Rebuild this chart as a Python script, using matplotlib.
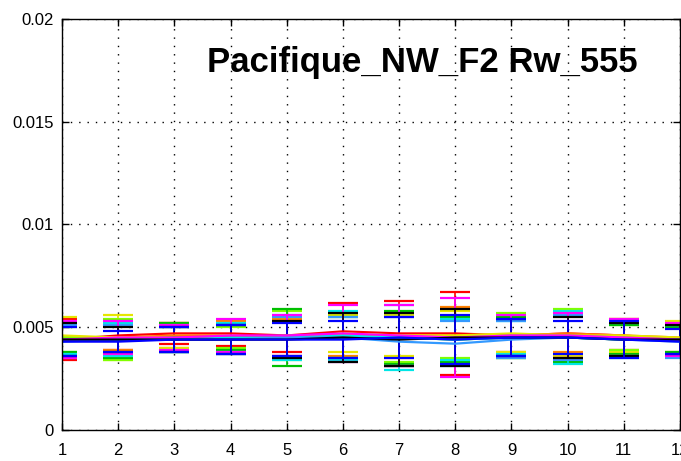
import matplotlib
matplotlib.use("Agg")
import matplotlib.pyplot as plt
import numpy as np

x = list(range(1, 13))
title_text = "Pacifique_NW_F2 Rw_555"
yticks = [0, 0.005, 0.01, 0.015, 0.02]
ytick_labels = ["0", "0.005", "0.01", "0.015", "0.02"]

colors = ["#ff0000", "#ff8000", "#e6e600", "#80ff00", "#00c000", "#00e6e6",
          "#3399ff", "#ff00ff", "#000000", "#0000ff"]

mean_red     = [0.0044, 0.0046, 0.0047, 0.0047, 0.0046, 0.0048, 0.0047, 0.0047, 0.0046, 0.0047, 0.0046, 0.0044]
mean_orange  = [0.0045, 0.0045, 0.0046, 0.0046, 0.0045, 0.0046, 0.0046, 0.0046, 0.0046, 0.0047, 0.0046, 0.0045]
mean_yellow  = [0.0046, 0.0045, 0.0045, 0.0045, 0.0045, 0.0047, 0.0046, 0.0046, 0.0047, 0.0046, 0.0046, 0.0045]
mean_lime    = [0.0045, 0.0044, 0.0045, 0.0045, 0.0046, 0.0046, 0.0045, 0.0045, 0.0046, 0.0046, 0.0045, 0.0044]
mean_green   = [0.0044, 0.0044, 0.0045, 0.0045, 0.0045, 0.0045, 0.0045, 0.0044, 0.0045, 0.0045, 0.0044, 0.0044]
mean_cyan    = [0.0044, 0.0044, 0.0044, 0.0045, 0.0045, 0.0046, 0.0045, 0.0044, 0.0045, 0.0045, 0.0044, 0.0044]
mean_ltblue  = [0.0043, 0.0044, 0.0044, 0.0044, 0.0045, 0.0045, 0.0043, 0.0042, 0.0044, 0.0045, 0.0044, 0.0043]
mean_magenta = [0.0044, 0.0045, 0.0045, 0.0046, 0.0046, 0.0047, 0.0046, 0.0045, 0.0046, 0.0046, 0.0045, 0.0044]
mean_black   = [0.0044, 0.0044, 0.0044, 0.0044, 0.0044, 0.0045, 0.0044, 0.0045, 0.0045, 0.0045, 0.0044, 0.0044]
mean_blue    = [0.0043, 0.0043, 0.0044, 0.0044, 0.0044, 0.0044, 0.0045, 0.0044, 0.0045, 0.0045, 0.0044, 0.0043]

err_red     = [0.0010, 0.0007, 0.0005, 0.0006, 0.0008, 0.0014, 0.0016, 0.0020, 0.0008, 0.0010, 0.0007, 0.0008]
err_orange  = [0.0008, 0.0006, 0.0006, 0.0007, 0.0009, 0.0010, 0.0011, 0.0014, 0.0010, 0.0009, 0.0008, 0.0007]
err_yellow  = [0.0009, 0.0011, 0.0005, 0.0006, 0.0010, 0.0009, 0.0010, 0.0012, 0.0009, 0.0010, 0.0008, 0.0008]
err_lime    = [0.0007, 0.0010, 0.0006, 0.0005, 0.0012, 0.0011, 0.0012, 0.0010, 0.0011, 0.0013, 0.0006, 0.0007]
err_green   = [0.0006, 0.0009, 0.0007, 0.0006, 0.0014, 0.0010, 0.0013, 0.0011, 0.0010, 0.0012, 0.0007, 0.0006]
err_cyan    = [0.0007, 0.0008, 0.0006, 0.0007, 0.0011, 0.0012, 0.0016, 0.0010, 0.0008, 0.0013, 0.0009, 0.0007]
err_ltblue  = [0.0008, 0.0007, 0.0006, 0.0007, 0.0010, 0.0010, 0.0012, 0.0011, 0.0009, 0.0011, 0.0008, 0.0008]
err_magenta = [0.0009, 0.0008, 0.0006, 0.0008, 0.0010, 0.0014, 0.0015, 0.0019, 0.0010, 0.0011, 0.0009, 0.0008]
err_black   = [0.0008, 0.0006, 0.0006, 0.0007, 0.0009, 0.0012, 0.0013, 0.0014, 0.0009, 0.0010, 0.0008, 0.0007]
err_blue    = [0.0007, 0.0005, 0.0006, 0.0007, 0.0008, 0.0009, 0.0010, 0.0012, 0.0009, 0.0008, 0.0009, 0.0006]

means = [mean_red, mean_orange, mean_yellow, mean_lime, mean_green, mean_cyan,
         mean_ltblue, mean_magenta, mean_black, mean_blue]
errs = [err_red, err_orange, err_yellow, err_lime, err_green, err_cyan,
        err_ltblue, err_magenta, err_black, err_blue]

plt.rcParams['font.family'] = ['Liberation Sans', 'DejaVu Sans']
fig = plt.figure(figsize=(6.81, 4.61), dpi=100)
ax = fig.add_axes([62/681, 1 - 430/461, (680 - 62)/681, (430 - 19)/461])

for m, e, c in zip(means, errs, colors):
    ax.errorbar(x, m, yerr=e, color=c, lw=1.6, elinewidth=1.2,
                capsize=11, capthick=1.6)

ax.set_xlim(1, 12)
ax.set_ylim(0, 0.02)
ax.set_xticks(x)
ax.set_xticklabels([str(v) for v in x])
ax.set_yticks(yticks)
ax.set_yticklabels(ytick_labels)
ax.grid(True, color="black", linestyle=(0, (1, 5)), linewidth=1.0)
ax.tick_params(direction="in", length=5, labelsize=12, top=True, right=True,
               width=1)
ax.tick_params(axis="x", pad=9)
ax.tick_params(axis="y", pad=6)
for s in ax.spines.values():
    s.set_linewidth(1.0)

ax.text(0.583, 0.895, title_text, transform=ax.transAxes, fontsize=25,
        fontweight="bold", ha="center", va="center", color="black")

fig.savefig("out.png", dpi=100)
